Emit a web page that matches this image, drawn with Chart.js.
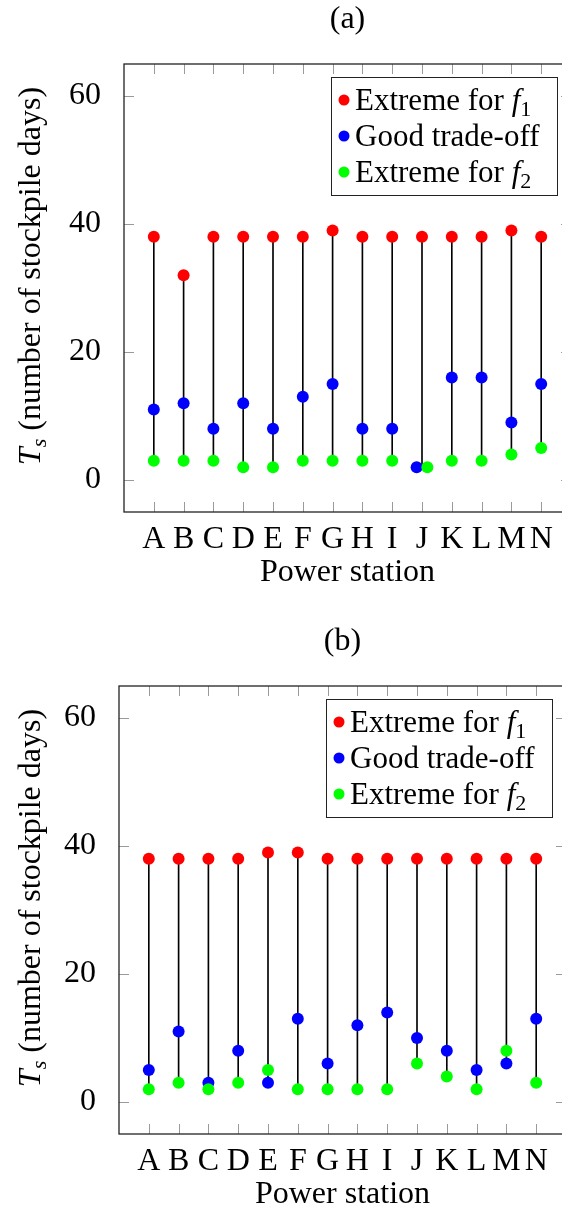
<!DOCTYPE html>
<html>
<head>
<meta charset="utf-8">
<script src="https://cdn.jsdelivr.net/npm/chart.js@4.4.0/dist/chart.umd.min.js"></script>
<style>
  html, body { margin: 0; padding: 0; background: #fff; overflow: hidden; }
  body { width: 562px; height: 1211px; position: relative; }
  canvas { position: absolute; left: 0; }
  #chartA { top: 0; }
  #chartB { top: 622px; }
</style>
</head>
<body>
<canvas id="chartA" width="580" height="600"></canvas>
<canvas id="chartB" width="580" height="600"></canvas>
<script>
// power stations
var stations = ['A', 'B', 'C', 'D', 'E', 'F', 'G', 'H', 'I', 'J', 'K', 'L', 'M', 'N'];
var yTicks = [0, 20, 40, 60];

// (a)
var extremeF1A = [38, 32, 38, 38, 38, 38, 39, 38, 38, 38, 38, 38, 39, 38];
var tradeOffA  = [11, 12, 8, 12, 8, 13, 15, 8, 8, 2, 16, 16, 9, 15];
var extremeF2A = [3, 3, 3, 2, 2, 3, 3, 3, 3, 2, 3, 3, 4, 5];

// (b)
var extremeF1B = [38, 38, 38, 38, 39, 39, 38, 38, 38, 38, 38, 38, 38, 38];
var tradeOffB  = [5, 11, 3, 8, 3, 13, 6, 12, 14, 10, 8, 5, 6, 13];
var extremeF2B = [2, 3, 2, 3, 5, 2, 2, 2, 2, 6, 4, 2, 8, 3];

var serif = '"Liberation Serif", "Times New Roman", serif';
var fs = 32;      // axis text
var legendFs = 31;

var seriesInfo = [
	{ color: '#ff0000', label: [{t: 'Extreme for '}, {t: 'f', it: true}, {t: '1', sub: true}] },
	{ color: '#0000ff', label: [{t: 'Good trade-off'}] },
	{ color: '#00ff00', label: [{t: 'Extreme for '}, {t: 'f', it: true}, {t: '2', sub: true}] }
];
var yTitle = [{t: 'T', it: true}, {t: 's', it: true, sub: true}, {t: ' (number of stockpile days)'}];

function partFont(p, size) {
	return (p.it ? 'italic ' : '') + (p.sub ? Math.round(size * 0.7) : size) + 'px ' + serif;
}

function richWidth(ctx, parts, size) {
	var w = 0;
	parts.forEach(function(p) {
		ctx.font = partFont(p, size);
		w += ctx.measureText(p.t).width;
	});
	return w;
}

function drawRich(ctx, parts, x, y, size) {
	ctx.textBaseline = 'alphabetic';
	ctx.textAlign = 'left';
	parts.forEach(function(p) {
		ctx.font = partFont(p, size);
		ctx.fillText(p.t, x, y + (p.sub ? size * 0.2 : 0));
		x += ctx.measureText(p.t).width;
	});
}

// frame, inward ticks, title, y title and legend
var decorPlugin = {
	id: 'decor',
	afterDatasetsDraw: function(chart, args, opts) {
		var ctx = chart.ctx;
		var a = chart.chartArea;
		var xs = chart.scales.x, ys = chart.scales.y;
		ctx.save();

		ctx.strokeStyle = '#9a9a9a';
		ctx.lineWidth = 1;
		ctx.beginPath();
		stations.forEach(function(s, i) {
			var px = Math.round(xs.getPixelForValue(i + 1)) + 0.5;
			ctx.moveTo(px, a.bottom); ctx.lineTo(px, a.bottom - 10);
			ctx.moveTo(px, a.top); ctx.lineTo(px, a.top + 10);
		});
		yTicks.forEach(function(v) {
			var py = Math.round(ys.getPixelForValue(v)) + 0.5;
			ctx.moveTo(a.left, py); ctx.lineTo(a.left + 10, py);
			ctx.moveTo(a.right, py); ctx.lineTo(a.right - 10, py);
		});
		ctx.stroke();

		ctx.strokeStyle = '#222';
		ctx.lineWidth = 1.3;
		ctx.strokeRect(a.left, a.top, a.right - a.left, a.bottom - a.top);

		ctx.fillStyle = '#000';
		ctx.font = fs + 'px ' + serif;
		ctx.textAlign = 'center';
		ctx.textBaseline = 'middle';
		ctx.fillText(opts.title, (a.left + a.right) / 2, 20);

		// y axis title, rotated
		ctx.save();
		ctx.translate(40, a.top + 212);
		ctx.rotate(-Math.PI / 2);
		drawRich(ctx, yTitle, -richWidth(ctx, yTitle, fs) / 2, 0, fs);
		ctx.restore();

		// legend box
		var bw = 226, bh = 118;
		var bx = a.right - 14 - bw, by = a.top + 13;
		ctx.fillStyle = '#fff';
		ctx.fillRect(bx, by, bw, bh);
		ctx.strokeStyle = '#222';
		ctx.lineWidth = 1;
		ctx.strokeRect(bx + 0.5, by + 0.5, bw, bh);
		seriesInfo.forEach(function(s, i) {
			var cy = by + 23 + i * 36;
			ctx.fillStyle = s.color;
			ctx.beginPath();
			ctx.arc(bx + 13, cy, 5.5, 0, Math.PI * 2);
			ctx.fill();
			ctx.fillStyle = '#000';
			drawRich(ctx, s.label, bx + 24, cy + 10, legendFs);
		});
		ctx.restore();
	}
};

function makeChart(id, title, plotLeft, f1, mid, f2) {
	var stems = stations.map(function(s, i) {
		return { x: i + 1, y: [Math.min(f1[i], mid[i], f2[i]), Math.max(f1[i], mid[i], f2[i])] };
	});
	// nudge coinciding points apart so both stay visible
	function pts(vals, shift) {
		return vals.map(function(v, i) {
			var dx = (mid[i] === f2[i]) ? shift : 0;
			return { x: i + 1 + dx, y: v };
		});
	}
	var canvas = document.getElementById(id);
	return new Chart(canvas.getContext('2d'), {
		type: 'scatter',
		data: {
			datasets: [
				{ label: 'Extreme for f1', data: pts(f1, 0), backgroundColor: seriesInfo[0].color, pointRadius: 6, borderWidth: 0, order: 2 },
				{ label: 'Good trade-off', data: pts(mid, -0.18), backgroundColor: seriesInfo[1].color, pointRadius: 6, borderWidth: 0, order: 1 },
				{ label: 'Extreme for f2', data: pts(f2, 0.18), backgroundColor: seriesInfo[2].color, pointRadius: 6, borderWidth: 0, order: 0 },
				{ type: 'bar', data: stems, backgroundColor: '#000', barThickness: 1, order: 3 }
			]
		},
		options: {
			responsive: false,
			animation: false,
			events: [],
			layout: { padding: { top: 64, left: 0, right: canvas.width - (plotLeft + 447), bottom: 600 - 512 - 80 } },
			plugins: { legend: { display: false }, tooltip: { enabled: false }, decor: { title: title } },
			scales: {
				x: {
					type: 'linear', min: 0, max: 15, offset: false,
					grid: { display: false }, border: { display: false },
					ticks: {
						stepSize: 1, includeBounds: false, autoSkip: false, maxRotation: 0, padding: 0,
						color: '#000', font: { family: serif, size: fs },
						callback: function(v) { return stations[v - 1] || ''; }
					},
					title: { display: true, text: 'Power station', color: '#000', font: { family: serif, size: fs }, padding: 0 },
					afterFit: function(s) { s.height = 80; }
				},
				y: {
					min: -5, max: 65,
					grid: { display: false }, border: { display: false },
					ticks: {
						stepSize: 20, includeBounds: false, padding: 15,
						color: '#000', font: { family: serif, size: fs },
						callback: function(v) { return yTicks.indexOf(v) >= 0 ? v : ''; }
					},
					afterFit: function(s) { s.width = plotLeft; }
				}
			}
		},
		plugins: [decorPlugin]
	});
}

makeChart('chartA', '(a)', 124, extremeF1A, tradeOffA, extremeF2A);
makeChart('chartB', '(b)', 119, extremeF1B, tradeOffB, extremeF2B);
</script>
</body>
</html>
